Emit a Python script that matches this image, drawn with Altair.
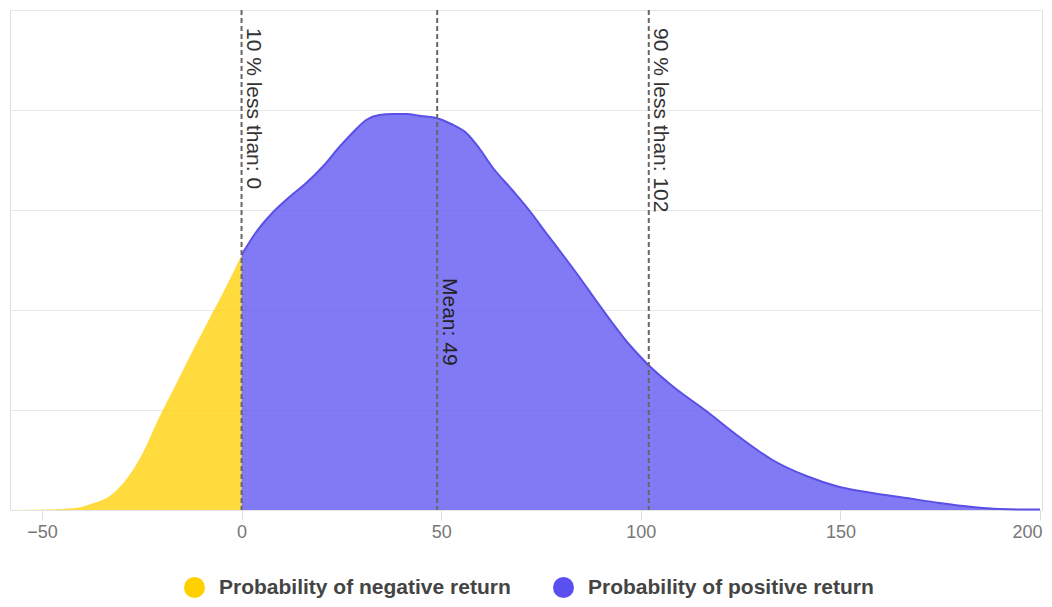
import altair as alt
import pandas as pd

# Density curve
xs = [-57, -48, -41.5, -37, -33, -29, -25, -20.7, -16.4, -12.4, -8.1, -3.9, 0,
      3.5, 7.7, 12, 16.2, 20.5, 24.5, 28, 31.2, 34.5, 38, 41.3, 45, 48.8, 52.5,
      56.3, 59.5, 62.8, 67.8, 72, 76.3, 80.5, 84.6, 88.7, 92.9, 97, 101.4, 107.9,
      116.4, 124.7, 133, 141.5, 149.8, 158, 166.5, 174.8, 183.1, 189.9, 195, 200]
ys = [0.0, 0.005, 0.02, 0.07, 0.14, 0.3, 0.55, 0.92, 1.26, 1.58, 1.91, 2.23, 2.55,
      2.77, 2.97, 3.13, 3.27, 3.44, 3.63, 3.78, 3.9, 3.95, 3.96, 3.96, 3.94, 3.92, 3.86,
      3.77, 3.62, 3.43, 3.2, 3.0, 2.77, 2.55, 2.33, 2.1, 1.87, 1.66, 1.47, 1.24,
      0.99, 0.73, 0.5, 0.34, 0.23, 0.17, 0.12, 0.07, 0.03, 0.01, 0.005, 0.005]

series_names = ["Probability of negative return", "Probability of positive return"]
series_colors = ["#FFD000", "#5A50F0"]

marker_values = [0, 102]
marker_labels = ["10 % less than: 0", "90 % less than: 102"]
mean_value = [49]
mean_label = ["Mean: 49"]
x_ticks = [-50, 0, 50, 100, 150, 200]
y_grid = [0, 1, 2, 3, 4, 5]

rows = []
for x, y in zip(xs, ys):
    if x <= 0:
        rows.append({"x": x, "y": y, "series": series_names[0]})
    if x >= 0:
        rows.append({"x": x, "y": y, "series": series_names[1]})
df = pd.DataFrame(rows)
pos_df = df[df.series == series_names[1]]

xscale = alt.Scale(domain=[-58, 200.5], nice=False, zero=False)
yscale = alt.Scale(domain=[0, 5], nice=False)

xaxis = alt.Axis(values=x_ticks, title=None, grid=False, labelFontSize=18,
                 labelColor="#777", tickColor="#ddd", tickSize=10, labelPadding=3,
                 domainColor="#e4e4e4", labelFlush=5, labelFlushOffset=2,
                 labelFont="Liberation Sans")
yaxis = alt.Axis(values=y_grid, title=None, labels=False, ticks=False, domain=False,
                 gridColor="#e8e8e8", gridWidth=1)

area = alt.Chart(df).mark_area(interpolate="monotone", fillOpacity=0.76).encode(
    x=alt.X("x:Q", scale=xscale, axis=xaxis),
    y=alt.Y("y:Q", scale=yscale, axis=yaxis, stack=None),
    color=alt.Color("series:N",
                    scale=alt.Scale(domain=series_names, range=series_colors),
                    legend=alt.Legend(orient="none", legendX=174, legendY=567,
                                      direction="horizontal", title=None,
                                      symbolType="circle", symbolSize=441,
                                      symbolOpacity=1, symbolStrokeWidth=0,
                                      labelFontSize=21, labelFontWeight="bold",
                                      labelColor="#444", labelOffset=14,
                                      columnPadding=42, labelLimit=400, padding=0,
                                      labelFont="Liberation Sans")),
)

line = alt.Chart(pos_df).mark_line(interpolate="monotone", color="#5A50E6",
                                   strokeWidth=2).encode(
    x=alt.X("x:Q", scale=xscale),
    y=alt.Y("y:Q", scale=yscale),
)

mk_df = pd.DataFrame({"x": marker_values + mean_value,
                      "label": marker_labels + mean_label,
                      "top": [5] * 3})
q_df = pd.DataFrame({"x": marker_values, "label": marker_labels, "top": [5, 5]})
m_df = pd.DataFrame({"x": mean_value, "label": mean_label, "top": [5]})

rules = alt.Chart(mk_df).mark_rule(color="#666", strokeWidth=2,
                                   strokeDash=[5, 3]).encode(
    x=alt.X("x:Q", scale=xscale))

q_text = alt.Chart(q_df).mark_text(angle=90, align="left", baseline="alphabetic",
                                   dx=18, dy=-5, fontSize=21, color="#333",
                                   font="Liberation Sans").encode(
    x=alt.X("x:Q", scale=xscale), y=alt.Y("top:Q", scale=yscale), text="label:N")

m_text = alt.Chart(m_df).mark_text(angle=90, align="left", baseline="alphabetic",
                                   dx=268, dy=-6, fontSize=21, color="#222",
                                   font="Liberation Sans").encode(
    x=alt.X("x:Q", scale=xscale), y=alt.Y("top:Q", scale=yscale), text="label:N")

chart = alt.layer(area, line, rules, q_text, m_text).properties(
    width=1032, height=500,
    autosize=alt.AutoSizeParams(type="none"),
    padding={"left": 2, "top": 2, "right": 2, "bottom": 88},
).configure_view(stroke=None).configure(font="Liberation Sans")

chart.save("out.html", embed_options={"renderer": "svg", "actions": False})
